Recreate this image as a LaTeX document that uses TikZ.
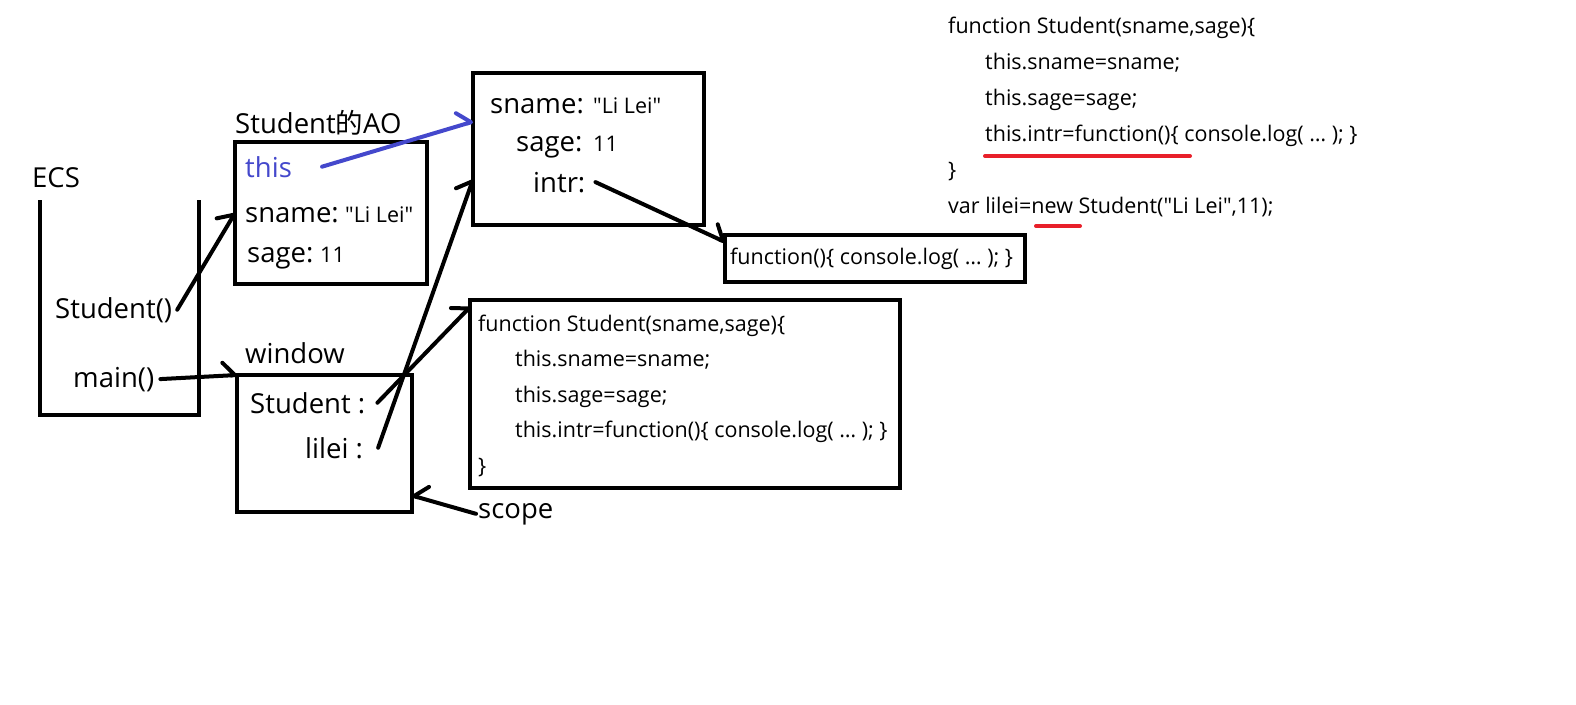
\documentclass[tikz,border=0pt]{standalone}
\usepackage{fontspec}
\setmainfont{Open Sans}[Ligatures=TeXOff]
\newfontfamily\cjk{Noto Sans CJK SC}
\usetikzlibrary{arrows.meta}
\usetikzlibrary{calc}
\definecolor{thisblue}{RGB}{68,72,204}
\definecolor{markred}{RGB}{232,32,42}
\tikzset{
	txt/.style={font=\fontsize{27.5}{30}\selectfont, inner sep=0pt, anchor=base west},
	code/.style={font=\fontsize{21.5}{26}\selectfont, inner sep=0pt, anchor=base west},
	box/.style={draw, line width=4.5pt, inner sep=0pt, outer sep=0pt},
	arr/.style={line width=4pt, line cap=round, -{Straight Barb[harpoon, round, length=12pt, width=26pt]}},
	arrsw/.style={line width=4pt, line cap=round, -{Straight Barb[harpoon, swap, round, length=12pt, width=26pt]}},
	underl/.style={markred, line width=4pt, line cap=round}
}

\begin{document}
\begin{tikzpicture}[x=1pt, y=-1pt]
			\useasboundingbox (0,0) rectangle (1576,704);
			\node[box, minimum width=192pt, minimum height=142pt] (ao) at (331,213) {};
			\node[box, minimum width=231pt, minimum height=152pt] (obj) at (588.5,149) {};
			\node[box, minimum width=300pt, minimum height=47pt] (fn) at (875,258.5) {};
			\node[box, minimum width=430pt, minimum height=188pt] (code) at (685,394) {};
			\node[box, minimum width=175pt, minimum height=137pt] (win) at (324.5,443.5) {};
			\draw[line width=4.5pt] (40,200) |- (199,415) -- (199,200);
			\node[txt] (ecs) at (32,187) {ECS};
			\node[txt] (stu) at (55,318) {Student()};
			\node[txt] (main) at (73,387) {main()};
			\node[txt] (aolbl) at (235,133) {Student{\cjk 的}AO};
			\node[txt, thisblue] (this) at (245,177) {this};
			\node[txt] (aoname) at (245,222) {sname:};
			\node[code] (aonamev) at (345,222) {"Li Lei"};
			\node[txt] (aoage) at (247,262) {sage:};
			\node[code] (aoagev) at (320,262) {11};
			\node[txt] (objname) at (490,113) {sname:};
			\node[code] (objnamev) at (593,113) {"Li Lei"};
			\node[txt] (objage) at (516,151) {sage:};
			\node[code] (objagev) at (593,151) {11};
			\node[txt] (objintr) at (533,192) {intr:};
			\node[code] (fntxt) at (730,264) {function()\{ console.log( … ); \}};
			\node[txt] (winlbl) at (245,363) {window};
			\node[txt] (winstu) at (250,413) {Student :};
			\node[txt] (winlilei) at (305,458) {lilei :};
			\node[txt] (scope) at (478,518) {scope};
			\foreach \cx/\cy/\sp/\nm in {478/331/35.5/b, 948/33/36/t} {
				\foreach \codeline [count=\i from 0] in {{function Student(sname,sage)\{}, {\hspace*{37pt}this.sname=sname;}, {\hspace*{37pt}this.sage=sage;}, {\hspace*{37pt}this.intr=function()\{ console.log( … ); \}}, {\}}} {
					\node[code] (\nm\i) at (\cx,{\cy+\sp*\i}) {\codeline};
				}
			}
			\node[code] (t5) at (948,213) {var lilei=new Student("Li Lei",11);};
			\draw[underl] ([xshift=37pt,yshift=-15pt]t3.base west) -- ++(205,0);
			\draw[underl] ([xshift=88pt,yshift=-13pt]t5.base west) -- ++(44,0);
			\draw[arr] ([xshift=5pt]stu.east) -- (ao.west);
			\draw[arr] ([xshift=6pt]main.east) -- (win.north west);
			\draw[arr, thisblue] ([xshift=30pt]this.east) -- ($(obj.north west)!0.32!(obj.south west)$);
			\draw[arr] ([xshift=12pt]winstu.east) -- ([yshift=-7pt]code.north west);
			\draw[arr] ([xshift=15pt]winlilei.east) -- ($(obj.north west)!0.7!(obj.south west)$);
			\draw[arr] ([xshift=10pt]objintr.east) -- ([yshift=-7pt]fn.north west);
			\draw[arrsw] ([xshift=-2pt]scope.west) -- ($(win.north east)!0.88!(win.south east)$);
		\end{tikzpicture}
\end{document}
